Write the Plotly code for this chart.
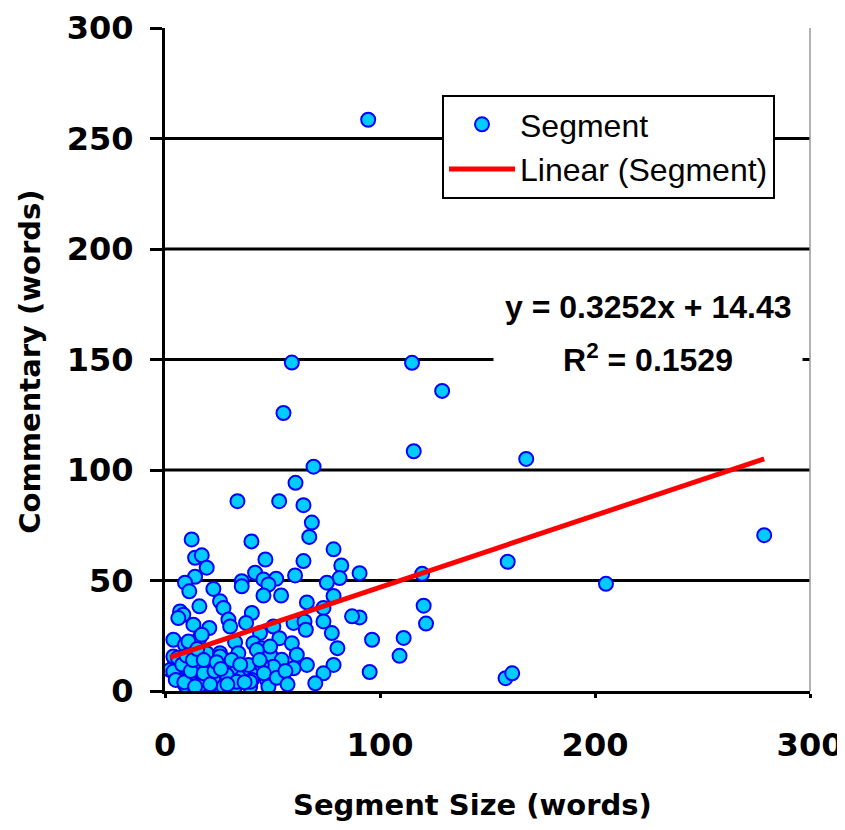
import plotly.graph_objects as go

# Data
segment_size = [94.5, 59, 114.9, 128.9, 55.1, 115.7, 168, 69.1, 60.7, 33.7, 53.1, 64.4, 68.3, 67.1,
                12.4, 40.2, 78.4, 46.7, 64.4, 14, 17.1, 19.4, 82, 90.5, 41.9, 60.5, 81.2, 14, 9.3,
                35.7, 45.8, 51.7, 48.1, 75.3, 11.3, 22.5, 45.8, 54, 78.4, 66, 73.7, 25.6, 27.2, 16,
                7, 8.5, 6.2, 29.5, 40.4, 59.8, 64.9, 73.7, 90.5, 30.3, 13.2, 20.6, 37.7, 50.4, 65.5,
                44.2, 77.6, 3.9, 16, 53.2, 80.2, 59, 32.6, 41.1, 45, 9.3, 12.4, 34.1, 48.9, 61.3,
                19.4, 25.6, 54.3, 66, 78.4, 59.8, 50.4, 4.7, 7, 4.7, 11.6, 15.5, 20.2, 28.7, 30.3,
                22.5, 36.5, 42.7, 40.4, 47.4, 73.7, 69.9, 10.9, 17.1, 24.8, 32.6, 34.1, 27.2, 13.2,
                7, 20.2, 39.6, 48.1, 2.3, 96.3, 95.2, 111, 109.1, 119.6, 120.3, 121.4, 159.4, 278.7,
                205.1, 158.4, 161.5, 10.9, 17.1, 7, 16.3, 25.6, 19.4, 31, 38.8, 3.9, 11.6, 22.5,
                28.7, 33.4, 39.6, 9.3, 16.3, 27.2, 3.9, 48.9, 42.7, 45, 87, 35.7,
                5, 6, 8, 9, 10, 12, 13, 14, 15, 18, 18, 21, 23, 24, 26, 29, 31, 35, 37, 44,
                46, 52, 56, 57]
commentary = [258.5, 148.6, 148.5, 135.8, 125.8, 108.5, 105, 101.5, 94.2, 85.9, 85.9, 84.1, 76.2, 69.7,
              68.6, 67.7, 64.1, 59.5, 58.8, 60.3, 61.4, 55.8, 56.8, 53.3, 53.5, 52.3, 51.1, 51.7, 49,
              49.7, 50.5, 50.8, 48.2, 49, 45.1, 46.2, 43.2, 43.2, 43, 40.1, 37.6, 40.6, 37.6, 38.3,
              36, 34.5, 33, 32.3, 35.3, 30.8, 31.5, 31.5, 33.3, 29.2, 30, 28.5, 30.8, 29.2, 27.7,
              26.2, 26.2, 23.2, 23.9, 23.9, 19.4, 21.6, 22.1, 21.6, 19.4, 20.9, 18.6, 17.1, 16.4, 16.4,
              17.1, 17.1, 14.1, 11.8, 11.8, 10.3, 11, 13.3, 8, 11, 11, 9.5, 11.8, 12.5, 8,
              6.5, 9.5, 8.8, 5, 5, 8, 3.5, 1.2, 3.5, 2.7, 2, 6.5, 5, 5,
              5, 5, 2, 2, 9.5, 23.2, 8.6, 24, 15.9, 53, 38.6, 30.5, 58.5, 70.5,
              48.5, 5.8, 8, 22.4, 25.5, 14.1, 12.6, 15.6, 11, 10.3, 11.8, 8.8, 7.3, 5.8,
              7.3, 4.2, 4.2, 2.7, 2.7, 2, 15.6, 20.1, 18.6, 11.8, 33.8, 47.4,
              5, 15, 12, 4, 16, 9, 14, 2, 19, 8, 14, 3, 9, 13, 10, 3, 14, 12, 4, 14,
              8, 6, 9, 3]

slope = 0.3252
intercept = 14.43
r_squared = 0.1529

x_ticks = [0, 100, 200, 300]
y_ticks = [0, 50, 100, 150, 200, 250, 300]
grid_vals = [50, 100, 150, 200, 250]

x_min, x_max = min(segment_size), max(segment_size)
trend_x = [x_min, x_max]
trend_y = [slope * v + intercept for v in trend_x]

fig = go.Figure()
fig.add_trace(go.Scatter(
    x=segment_size, y=commentary, mode="markers", name="Segment",
    marker=dict(size=14, color="#00CCFF", line=dict(color="#0000FF", width=2)),
))
fig.add_trace(go.Scatter(
    x=trend_x, y=trend_y, mode="lines", name="Linear (Segment)",
    line=dict(color="#FF0000", width=5),
))

shapes = []
for g in grid_vals:
    shapes.append(dict(type="line", xref="paper", x0=0, x1=1, yref="y", y0=g, y1=g,
                       line=dict(color="black", width=3), layer="below"))
shapes.append(dict(type="line", xref="paper", x0=1, x1=1, yref="paper", y0=0, y1=1,
                   line=dict(color="#999999", width=1.5), layer="below"))

tick_font = dict(family="DejaVu Sans", size=32, color="black", weight="bold")

# page body has an 8px margin, so the plot area is placed 8px up/left of target
fig.update_layout(
    width=845, height=830,
    margin=dict(l=157, r=43, t=20, b=147),
    paper_bgcolor="white", plot_bgcolor="white",
    showlegend=True,
    legend=dict(x=(442 - 165) / 645, y=(691 - 95) / 663, xanchor="left", yanchor="top",
                bgcolor="white", bordercolor="black", borderwidth=2,
                font=dict(family="Liberation Sans, Arial", size=32, color="black"),
                itemwidth=66, tracegroupgap=0),
    shapes=shapes,
    xaxis=dict(range=[0, 300], tickvals=x_ticks, showgrid=False, zeroline=False,
               showline=True, linecolor="black", linewidth=3, automargin=False,
               ticks="outside", ticklen=4, tickwidth=3, tickcolor="black",
               tickfont=tick_font, ticklabelstandoff=20),
    yaxis=dict(range=[0, 300], tickvals=y_ticks, showgrid=False, zeroline=False,
               showline=True, linecolor="black", linewidth=3, automargin=False,
               ticks="outside", ticklen=12, tickwidth=3, tickcolor="black",
               tickfont=tick_font, ticklabelstandoff=10),
    annotations=[
        dict(text="<b>Segment Size (words)</b>", xref="paper", yref="paper",
             x=0.476, y=-0.172, xanchor="center", yanchor="middle", showarrow=False,
             font=dict(family="DejaVu Sans", size=29, color="black")),
        dict(text="<b>Commentary (words)</b>", xref="paper", yref="paper",
             x=-0.209, y=0.497, xanchor="center", yanchor="middle", showarrow=False,
             textangle=-90, font=dict(family="DejaVu Sans", size=29, color="black")),
        dict(text=f"<b>y = {slope}x + {intercept}</b>", xref="paper", yref="paper",
             x=(648 - 165) / 645, y=(691 - 307) / 663, xanchor="center", yanchor="middle",
             showarrow=False, font=dict(family="Liberation Sans, Arial", size=32, color="black")),
        dict(text=f"<b>R<sup>2</sup> = {r_squared}</b>", xref="paper", yref="paper",
             x=(648 - 165) / 645, y=(691 - 358) / 663, xanchor="center", yanchor="middle",
             showarrow=False, bgcolor="white", width=300, borderpad=4,
             font=dict(family="Liberation Sans, Arial", size=32, color="black")),
    ],
)

fig.write_html("out.html")
